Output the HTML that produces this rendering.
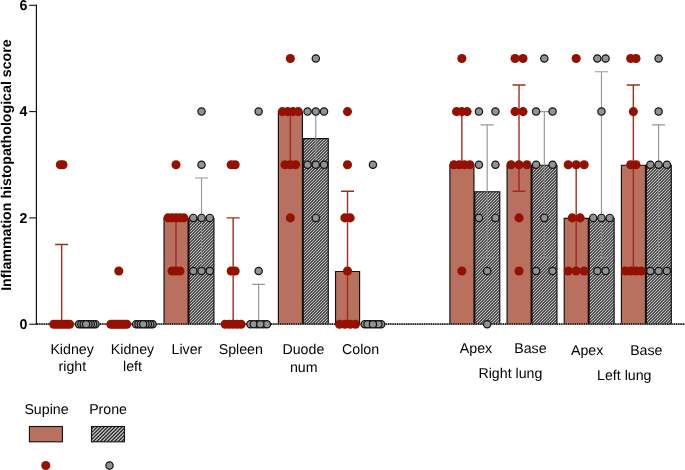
<!DOCTYPE html>
<html lang="en">
<head>
<meta charset="utf-8">
<title>Inflammation histopathological score</title>
<style>
html,body{margin:0;padding:0;background:#fff;}
body{width:685px;height:470px;overflow:hidden;}
svg{display:block;}
svg text{font-family:"Liberation Sans",Arial,Helvetica,sans-serif;font-size:14.2px;fill:#000;text-rendering:geometricPrecision;}
</style>
</head>
<body>
<svg width="685" height="470" viewBox="0 0 685 470">
<rect width="685" height="470" fill="#fff"/>
<rect x="164.04" y="218.35" width="24.05" height="105.85" fill="#BA705F"/>
<rect x="278.38" y="112.05" width="24.05" height="212.15" fill="#BA705F"/>
<rect x="335.55" y="271.50" width="24.05" height="52.70" fill="#BA705F"/>
<rect x="449.89" y="165.20" width="24.05" height="159.00" fill="#BA705F"/>
<rect x="507.06" y="165.20" width="24.05" height="159.00" fill="#BA705F"/>
<rect x="564.23" y="218.35" width="24.05" height="105.85" fill="#BA705F"/>
<rect x="621.40" y="165.20" width="24.05" height="159.00" fill="#BA705F"/>
<clipPath id="proneclip"><rect x="188.99" y="218.35" width="24.95" height="105.85"/><rect x="303.33" y="138.62" width="24.95" height="185.58"/><rect x="474.84" y="191.77" width="24.95" height="132.43"/><rect x="532.01" y="165.20" width="24.95" height="159.00"/><rect x="589.18" y="218.35" width="24.95" height="105.85"/><rect x="646.35" y="165.20" width="24.95" height="159.00"/></clipPath>
<g clip-path="url(#proneclip)"><rect x="170" y="100" width="515" height="226" fill="#cacaca"/><path d="M170.5 100L-55.5 326M173.5 100L-52.5 326M176.5 100L-49.5 326M179.5 100L-46.5 326M182.5 100L-43.5 326M185.5 100L-40.5 326M188.5 100L-37.5 326M191.5 100L-34.5 326M194.5 100L-31.5 326M197.5 100L-28.5 326M200.5 100L-25.5 326M203.5 100L-22.5 326M206.5 100L-19.5 326M209.5 100L-16.5 326M212.5 100L-13.5 326M215.5 100L-10.5 326M218.5 100L-7.5 326M221.5 100L-4.5 326M224.5 100L-1.5 326M227.5 100L1.5 326M230.5 100L4.5 326M233.5 100L7.5 326M236.5 100L10.5 326M239.5 100L13.5 326M242.5 100L16.5 326M245.5 100L19.5 326M248.5 100L22.5 326M251.5 100L25.5 326M254.5 100L28.5 326M257.5 100L31.5 326M260.5 100L34.5 326M263.5 100L37.5 326M266.5 100L40.5 326M269.5 100L43.5 326M272.5 100L46.5 326M275.5 100L49.5 326M278.5 100L52.5 326M281.5 100L55.5 326M284.5 100L58.5 326M287.5 100L61.5 326M290.5 100L64.5 326M293.5 100L67.5 326M296.5 100L70.5 326M299.5 100L73.5 326M302.5 100L76.5 326M305.5 100L79.5 326M308.5 100L82.5 326M311.5 100L85.5 326M314.5 100L88.5 326M317.5 100L91.5 326M320.5 100L94.5 326M323.5 100L97.5 326M326.5 100L100.5 326M329.5 100L103.5 326M332.5 100L106.5 326M335.5 100L109.5 326M338.5 100L112.5 326M341.5 100L115.5 326M344.5 100L118.5 326M347.5 100L121.5 326M350.5 100L124.5 326M353.5 100L127.5 326M356.5 100L130.5 326M359.5 100L133.5 326M362.5 100L136.5 326M365.5 100L139.5 326M368.5 100L142.5 326M371.5 100L145.5 326M374.5 100L148.5 326M377.5 100L151.5 326M380.5 100L154.5 326M383.5 100L157.5 326M386.5 100L160.5 326M389.5 100L163.5 326M392.5 100L166.5 326M395.5 100L169.5 326M398.5 100L172.5 326M401.5 100L175.5 326M404.5 100L178.5 326M407.5 100L181.5 326M410.5 100L184.5 326M413.5 100L187.5 326M416.5 100L190.5 326M419.5 100L193.5 326M422.5 100L196.5 326M425.5 100L199.5 326M428.5 100L202.5 326M431.5 100L205.5 326M434.5 100L208.5 326M437.5 100L211.5 326M440.5 100L214.5 326M443.5 100L217.5 326M446.5 100L220.5 326M449.5 100L223.5 326M452.5 100L226.5 326M455.5 100L229.5 326M458.5 100L232.5 326M461.5 100L235.5 326M464.5 100L238.5 326M467.5 100L241.5 326M470.5 100L244.5 326M473.5 100L247.5 326M476.5 100L250.5 326M479.5 100L253.5 326M482.5 100L256.5 326M485.5 100L259.5 326M488.5 100L262.5 326M491.5 100L265.5 326M494.5 100L268.5 326M497.5 100L271.5 326M500.5 100L274.5 326M503.5 100L277.5 326M506.5 100L280.5 326M509.5 100L283.5 326M512.5 100L286.5 326M515.5 100L289.5 326M518.5 100L292.5 326M521.5 100L295.5 326M524.5 100L298.5 326M527.5 100L301.5 326M530.5 100L304.5 326M533.5 100L307.5 326M536.5 100L310.5 326M539.5 100L313.5 326M542.5 100L316.5 326M545.5 100L319.5 326M548.5 100L322.5 326M551.5 100L325.5 326M554.5 100L328.5 326M557.5 100L331.5 326M560.5 100L334.5 326M563.5 100L337.5 326M566.5 100L340.5 326M569.5 100L343.5 326M572.5 100L346.5 326M575.5 100L349.5 326M578.5 100L352.5 326M581.5 100L355.5 326M584.5 100L358.5 326M587.5 100L361.5 326M590.5 100L364.5 326M593.5 100L367.5 326M596.5 100L370.5 326M599.5 100L373.5 326M602.5 100L376.5 326M605.5 100L379.5 326M608.5 100L382.5 326M611.5 100L385.5 326M614.5 100L388.5 326M617.5 100L391.5 326M620.5 100L394.5 326M623.5 100L397.5 326M626.5 100L400.5 326M629.5 100L403.5 326M632.5 100L406.5 326M635.5 100L409.5 326M638.5 100L412.5 326M641.5 100L415.5 326M644.5 100L418.5 326M647.5 100L421.5 326M650.5 100L424.5 326M653.5 100L427.5 326M656.5 100L430.5 326M659.5 100L433.5 326M662.5 100L436.5 326M665.5 100L439.5 326M668.5 100L442.5 326M671.5 100L445.5 326M674.5 100L448.5 326M677.5 100L451.5 326M680.5 100L454.5 326M683.5 100L457.5 326M686.5 100L460.5 326M689.5 100L463.5 326M692.5 100L466.5 326M695.5 100L469.5 326M698.5 100L472.5 326M701.5 100L475.5 326M704.5 100L478.5 326M707.5 100L481.5 326M710.5 100L484.5 326M713.5 100L487.5 326M716.5 100L490.5 326M719.5 100L493.5 326M722.5 100L496.5 326M725.5 100L499.5 326M728.5 100L502.5 326M731.5 100L505.5 326M734.5 100L508.5 326M737.5 100L511.5 326M740.5 100L514.5 326M743.5 100L517.5 326M746.5 100L520.5 326M749.5 100L523.5 326M752.5 100L526.5 326M755.5 100L529.5 326M758.5 100L532.5 326M761.5 100L535.5 326M764.5 100L538.5 326M767.5 100L541.5 326M770.5 100L544.5 326M773.5 100L547.5 326M776.5 100L550.5 326M779.5 100L553.5 326M782.5 100L556.5 326M785.5 100L559.5 326M788.5 100L562.5 326M791.5 100L565.5 326M794.5 100L568.5 326M797.5 100L571.5 326M800.5 100L574.5 326M803.5 100L577.5 326M806.5 100L580.5 326M809.5 100L583.5 326M812.5 100L586.5 326M815.5 100L589.5 326M818.5 100L592.5 326M821.5 100L595.5 326M824.5 100L598.5 326M827.5 100L601.5 326M830.5 100L604.5 326M833.5 100L607.5 326M836.5 100L610.5 326M839.5 100L613.5 326M842.5 100L616.5 326M845.5 100L619.5 326M848.5 100L622.5 326M851.5 100L625.5 326M854.5 100L628.5 326M857.5 100L631.5 326M860.5 100L634.5 326M863.5 100L637.5 326M866.5 100L640.5 326M869.5 100L643.5 326M872.5 100L646.5 326M875.5 100L649.5 326M878.5 100L652.5 326M881.5 100L655.5 326M884.5 100L658.5 326M887.5 100L661.5 326M890.5 100L664.5 326M893.5 100L667.5 326M896.5 100L670.5 326M899.5 100L673.5 326M902.5 100L676.5 326M905.5 100L679.5 326M908.5 100L682.5 326" stroke="#242424" stroke-width="1.05" fill="none"/></g>
<path d="M164.04 324.20V218.35H188.09V324.20M278.38 324.20V112.05H302.43V324.20M335.55 324.20V271.50H359.60V324.20M449.89 324.20V165.20H473.94V324.20M507.06 324.20V165.20H531.11V324.20M564.23 324.20V218.35H588.28V324.20M621.40 324.20V165.20H645.45V324.20M188.99 324.20V218.35H213.94V324.20M303.33 324.20V138.62H328.28V324.20M474.84 324.20V191.77H499.79V324.20M532.01 324.20V165.20H556.96V324.20M589.18 324.20V218.35H614.13V324.20M646.35 324.20V165.20H671.30V324.20" fill="none" stroke="#111" stroke-width="1.15"/>
<line x1="37" y1="324.09999999999997" x2="685" y2="324.09999999999997" stroke="#777" stroke-width="1.4"/>
<line x1="37" y1="324.09999999999997" x2="685" y2="324.09999999999997" stroke="#000" stroke-width="1.5" stroke-dasharray="1.15 1.1"/>
<path d="M61.65 324.20V244.47M55.15 244.47H68.15" fill="none" stroke="#A22C20" stroke-width="1.4"/>
<path d="M175.99 217.90V271.05M169.49 271.05H182.49" fill="none" stroke="#9E2A1E" stroke-width="1.4"/>
<path d="M233.16 324.20V217.90M226.66 217.90H239.66" fill="none" stroke="#A22C20" stroke-width="1.4"/>
<path d="M290.33 111.60V164.75M283.83 164.75H296.83" fill="none" stroke="#9E2A1E" stroke-width="1.4"/>
<path d="M347.50 271.05V191.32M341.00 191.32H354.00" fill="none" stroke="#A22C20" stroke-width="1.4"/>
<path d="M347.50 271.05V324.20M341.00 324.20H354.00" fill="none" stroke="#9E2A1E" stroke-width="1.4"/>
<path d="M461.84 164.75V111.60M455.34 111.60H468.34" fill="none" stroke="#A22C20" stroke-width="1.4"/>
<path d="M519.01 164.75V85.03M512.51 85.03H525.51" fill="none" stroke="#A22C20" stroke-width="1.4"/>
<path d="M519.01 164.75V191.32M512.51 191.32H525.51" fill="none" stroke="#9E2A1E" stroke-width="1.4"/>
<path d="M576.18 217.90V164.75M569.68 164.75H582.68" fill="none" stroke="#A22C20" stroke-width="1.4"/>
<path d="M576.18 217.90V271.05M569.68 271.05H582.68" fill="none" stroke="#9E2A1E" stroke-width="1.4"/>
<path d="M633.35 164.75V85.03M626.85 85.03H639.85" fill="none" stroke="#A22C20" stroke-width="1.4"/>
<path d="M633.35 164.75V271.05M626.85 271.05H639.85" fill="none" stroke="#9E2A1E" stroke-width="1.4"/>
<path d="M201.52 217.90V178.04M195.02 178.04H208.02" fill="none" stroke="#969696" stroke-width="1.15"/>
<path d="M201.52 217.90V271.05M195.02 271.05H208.02" fill="none" stroke="#8e8e8e" stroke-width="0.9"/>
<path d="M258.65 324.20V284.34M252.15 284.34H265.15" fill="none" stroke="#969696" stroke-width="1.15"/>
<path d="M315.79 138.17V111.60M309.29 111.60H322.29" fill="none" stroke="#969696" stroke-width="1.15"/>
<path d="M315.79 138.17V164.75M309.29 164.75H322.29" fill="none" stroke="#8e8e8e" stroke-width="0.9"/>
<path d="M487.19 191.32V124.89M480.69 124.89H493.69" fill="none" stroke="#969696" stroke-width="1.15"/>
<path d="M487.19 191.32V257.76M480.69 257.76H493.69" fill="none" stroke="#8e8e8e" stroke-width="0.9"/>
<path d="M544.33 164.75V111.60M537.83 111.60H550.83" fill="none" stroke="#969696" stroke-width="1.15"/>
<path d="M544.33 164.75V257.76M537.83 257.76H550.83" fill="none" stroke="#8e8e8e" stroke-width="0.9"/>
<path d="M601.47 217.90V71.74M594.97 71.74H607.97" fill="none" stroke="#969696" stroke-width="1.15"/>
<path d="M601.47 217.90V257.76M594.97 257.76H607.97" fill="none" stroke="#8e8e8e" stroke-width="0.9"/>
<path d="M658.60 164.75V124.89M652.10 124.89H665.10" fill="none" stroke="#969696" stroke-width="1.15"/>
<path d="M658.60 164.75V271.05M652.10 271.05H665.10" fill="none" stroke="#8e8e8e" stroke-width="0.9"/>
<circle cx="62.98" cy="164.75" r="4.55" fill="#941100"/>
<circle cx="60.32" cy="164.75" r="4.55" fill="#941100"/>
<circle cx="69.60" cy="324.20" r="4.55" fill="#941100"/>
<circle cx="53.70" cy="324.20" r="4.55" fill="#941100"/>
<circle cx="66.95" cy="324.20" r="4.55" fill="#941100"/>
<circle cx="56.35" cy="324.20" r="4.55" fill="#941100"/>
<circle cx="64.30" cy="324.20" r="4.55" fill="#941100"/>
<circle cx="59.00" cy="324.20" r="4.55" fill="#941100"/>
<circle cx="61.65" cy="324.20" r="4.55" fill="#941100"/>
<circle cx="118.82" cy="271.05" r="4.55" fill="#941100"/>
<circle cx="126.77" cy="324.20" r="4.55" fill="#941100"/>
<circle cx="110.87" cy="324.20" r="4.55" fill="#941100"/>
<circle cx="124.50" cy="324.20" r="4.55" fill="#941100"/>
<circle cx="113.14" cy="324.20" r="4.55" fill="#941100"/>
<circle cx="122.23" cy="324.20" r="4.55" fill="#941100"/>
<circle cx="115.41" cy="324.20" r="4.55" fill="#941100"/>
<circle cx="119.96" cy="324.20" r="4.55" fill="#941100"/>
<circle cx="117.68" cy="324.20" r="4.55" fill="#941100"/>
<circle cx="175.99" cy="164.75" r="4.55" fill="#941100"/>
<circle cx="183.94" cy="217.90" r="4.55" fill="#941100"/>
<circle cx="168.04" cy="217.90" r="4.55" fill="#941100"/>
<circle cx="179.97" cy="217.90" r="4.55" fill="#941100"/>
<circle cx="172.02" cy="217.90" r="4.55" fill="#941100"/>
<circle cx="175.99" cy="217.90" r="4.55" fill="#941100"/>
<circle cx="179.97" cy="271.05" r="4.55" fill="#941100"/>
<circle cx="172.02" cy="271.05" r="4.55" fill="#941100"/>
<circle cx="175.99" cy="271.05" r="4.55" fill="#941100"/>
<circle cx="235.15" cy="164.75" r="4.55" fill="#941100"/>
<circle cx="231.17" cy="164.75" r="4.55" fill="#941100"/>
<circle cx="235.15" cy="271.05" r="4.55" fill="#941100"/>
<circle cx="231.17" cy="271.05" r="4.55" fill="#941100"/>
<circle cx="241.11" cy="324.20" r="4.55" fill="#941100"/>
<circle cx="225.21" cy="324.20" r="4.55" fill="#941100"/>
<circle cx="237.13" cy="324.20" r="4.55" fill="#941100"/>
<circle cx="229.19" cy="324.20" r="4.55" fill="#941100"/>
<circle cx="233.16" cy="324.20" r="4.55" fill="#941100"/>
<circle cx="290.33" cy="58.45" r="4.55" fill="#941100"/>
<circle cx="298.28" cy="111.60" r="4.55" fill="#941100"/>
<circle cx="282.38" cy="111.60" r="4.55" fill="#941100"/>
<circle cx="292.98" cy="111.60" r="4.55" fill="#941100"/>
<circle cx="287.68" cy="111.60" r="4.55" fill="#941100"/>
<circle cx="295.63" cy="164.75" r="4.55" fill="#941100"/>
<circle cx="285.03" cy="164.75" r="4.55" fill="#941100"/>
<circle cx="290.33" cy="164.75" r="4.55" fill="#941100"/>
<circle cx="290.33" cy="217.90" r="4.55" fill="#941100"/>
<circle cx="347.50" cy="111.60" r="4.55" fill="#941100"/>
<circle cx="347.50" cy="164.75" r="4.55" fill="#941100"/>
<circle cx="350.15" cy="217.90" r="4.55" fill="#941100"/>
<circle cx="344.85" cy="217.90" r="4.55" fill="#941100"/>
<circle cx="347.50" cy="271.05" r="4.55" fill="#941100"/>
<circle cx="355.45" cy="324.20" r="4.55" fill="#941100"/>
<circle cx="339.55" cy="324.20" r="4.55" fill="#941100"/>
<circle cx="350.15" cy="324.20" r="4.55" fill="#941100"/>
<circle cx="344.85" cy="324.20" r="4.55" fill="#941100"/>
<circle cx="461.84" cy="58.45" r="4.55" fill="#941100"/>
<circle cx="467.14" cy="111.60" r="4.55" fill="#941100"/>
<circle cx="456.54" cy="111.60" r="4.55" fill="#941100"/>
<circle cx="461.84" cy="111.60" r="4.55" fill="#941100"/>
<circle cx="469.79" cy="164.75" r="4.55" fill="#941100"/>
<circle cx="453.89" cy="164.75" r="4.55" fill="#941100"/>
<circle cx="464.49" cy="164.75" r="4.55" fill="#941100"/>
<circle cx="459.19" cy="164.75" r="4.55" fill="#941100"/>
<circle cx="461.84" cy="271.05" r="4.55" fill="#941100"/>
<circle cx="522.99" cy="58.45" r="4.55" fill="#941100"/>
<circle cx="515.03" cy="58.45" r="4.55" fill="#941100"/>
<circle cx="522.99" cy="111.60" r="4.55" fill="#941100"/>
<circle cx="515.03" cy="111.60" r="4.55" fill="#941100"/>
<circle cx="526.96" cy="164.75" r="4.55" fill="#941100"/>
<circle cx="511.06" cy="164.75" r="4.55" fill="#941100"/>
<circle cx="519.01" cy="164.75" r="4.55" fill="#941100"/>
<circle cx="519.01" cy="217.90" r="4.55" fill="#941100"/>
<circle cx="519.01" cy="271.05" r="4.55" fill="#941100"/>
<circle cx="576.18" cy="58.45" r="4.55" fill="#941100"/>
<circle cx="584.13" cy="164.75" r="4.55" fill="#941100"/>
<circle cx="568.23" cy="164.75" r="4.55" fill="#941100"/>
<circle cx="576.18" cy="164.75" r="4.55" fill="#941100"/>
<circle cx="580.15" cy="217.90" r="4.55" fill="#941100"/>
<circle cx="572.20" cy="217.90" r="4.55" fill="#941100"/>
<circle cx="584.13" cy="271.05" r="4.55" fill="#941100"/>
<circle cx="568.23" cy="271.05" r="4.55" fill="#941100"/>
<circle cx="576.18" cy="271.05" r="4.55" fill="#941100"/>
<circle cx="636.00" cy="58.45" r="4.55" fill="#941100"/>
<circle cx="630.70" cy="58.45" r="4.55" fill="#941100"/>
<circle cx="633.35" cy="111.60" r="4.55" fill="#941100"/>
<circle cx="636.00" cy="164.75" r="4.55" fill="#941100"/>
<circle cx="630.70" cy="164.75" r="4.55" fill="#941100"/>
<circle cx="641.30" cy="271.05" r="4.55" fill="#941100"/>
<circle cx="625.40" cy="271.05" r="4.55" fill="#941100"/>
<circle cx="636.00" cy="271.05" r="4.55" fill="#941100"/>
<circle cx="630.70" cy="271.05" r="4.55" fill="#941100"/>
<circle cx="95.50" cy="324.20" r="3.65" fill="#929292" stroke="#111" stroke-width="1.2"/>
<circle cx="79.00" cy="324.20" r="3.65" fill="#929292" stroke="#111" stroke-width="1.2"/>
<circle cx="93.14" cy="324.20" r="3.65" fill="#929292" stroke="#111" stroke-width="1.2"/>
<circle cx="81.36" cy="324.20" r="3.65" fill="#929292" stroke="#111" stroke-width="1.2"/>
<circle cx="90.79" cy="324.20" r="3.65" fill="#929292" stroke="#111" stroke-width="1.2"/>
<circle cx="83.71" cy="324.20" r="3.65" fill="#929292" stroke="#111" stroke-width="1.2"/>
<circle cx="88.43" cy="324.20" r="3.65" fill="#929292" stroke="#111" stroke-width="1.2"/>
<circle cx="86.07" cy="324.20" r="3.65" fill="#929292" stroke="#111" stroke-width="1.2"/>
<circle cx="152.63" cy="324.20" r="3.65" fill="#929292" stroke="#111" stroke-width="1.2"/>
<circle cx="136.13" cy="324.20" r="3.65" fill="#929292" stroke="#111" stroke-width="1.2"/>
<circle cx="150.28" cy="324.20" r="3.65" fill="#929292" stroke="#111" stroke-width="1.2"/>
<circle cx="138.49" cy="324.20" r="3.65" fill="#929292" stroke="#111" stroke-width="1.2"/>
<circle cx="147.92" cy="324.20" r="3.65" fill="#929292" stroke="#111" stroke-width="1.2"/>
<circle cx="140.85" cy="324.20" r="3.65" fill="#929292" stroke="#111" stroke-width="1.2"/>
<circle cx="145.56" cy="324.20" r="3.65" fill="#929292" stroke="#111" stroke-width="1.2"/>
<circle cx="143.21" cy="324.20" r="3.65" fill="#929292" stroke="#111" stroke-width="1.2"/>
<circle cx="201.52" cy="111.60" r="3.65" fill="#929292" stroke="#111" stroke-width="1.2"/>
<circle cx="201.52" cy="164.75" r="3.65" fill="#929292" stroke="#111" stroke-width="1.2"/>
<circle cx="209.77" cy="217.90" r="3.65" fill="#929292" stroke="#111" stroke-width="1.2"/>
<circle cx="193.27" cy="217.90" r="3.65" fill="#929292" stroke="#111" stroke-width="1.2"/>
<circle cx="201.52" cy="217.90" r="3.65" fill="#929292" stroke="#111" stroke-width="1.2"/>
<circle cx="209.77" cy="271.05" r="3.65" fill="#929292" stroke="#111" stroke-width="1.2"/>
<circle cx="193.27" cy="271.05" r="3.65" fill="#929292" stroke="#111" stroke-width="1.2"/>
<circle cx="201.52" cy="271.05" r="3.65" fill="#929292" stroke="#111" stroke-width="1.2"/>
<circle cx="258.65" cy="111.60" r="3.65" fill="#929292" stroke="#111" stroke-width="1.2"/>
<circle cx="258.65" cy="271.05" r="3.65" fill="#929292" stroke="#111" stroke-width="1.2"/>
<circle cx="250.40" cy="324.20" r="3.65" fill="#929292" stroke="#111" stroke-width="1.2"/>
<circle cx="257.00" cy="324.20" r="3.65" fill="#929292" stroke="#111" stroke-width="1.2"/>
<circle cx="263.60" cy="324.20" r="3.65" fill="#929292" stroke="#111" stroke-width="1.2"/>
<circle cx="266.90" cy="324.20" r="3.65" fill="#929292" stroke="#111" stroke-width="1.2"/>
<circle cx="253.70" cy="324.20" r="3.65" fill="#929292" stroke="#111" stroke-width="1.2"/>
<circle cx="260.30" cy="324.20" r="3.65" fill="#929292" stroke="#111" stroke-width="1.2"/>
<circle cx="315.79" cy="58.45" r="3.65" fill="#929292" stroke="#111" stroke-width="1.2"/>
<circle cx="324.04" cy="111.60" r="3.65" fill="#929292" stroke="#111" stroke-width="1.2"/>
<circle cx="307.54" cy="111.60" r="3.65" fill="#929292" stroke="#111" stroke-width="1.2"/>
<circle cx="315.79" cy="111.60" r="3.65" fill="#929292" stroke="#111" stroke-width="1.2"/>
<circle cx="324.04" cy="164.75" r="3.65" fill="#929292" stroke="#111" stroke-width="1.2"/>
<circle cx="307.54" cy="164.75" r="3.65" fill="#929292" stroke="#111" stroke-width="1.2"/>
<circle cx="315.79" cy="164.75" r="3.65" fill="#929292" stroke="#111" stroke-width="1.2"/>
<circle cx="315.79" cy="217.90" r="3.65" fill="#929292" stroke="#111" stroke-width="1.2"/>
<circle cx="372.93" cy="164.75" r="3.65" fill="#929292" stroke="#111" stroke-width="1.2"/>
<circle cx="364.68" cy="324.20" r="3.65" fill="#929292" stroke="#111" stroke-width="1.2"/>
<circle cx="370.18" cy="324.20" r="3.65" fill="#929292" stroke="#111" stroke-width="1.2"/>
<circle cx="375.68" cy="324.20" r="3.65" fill="#929292" stroke="#111" stroke-width="1.2"/>
<circle cx="381.18" cy="324.20" r="3.65" fill="#929292" stroke="#111" stroke-width="1.2"/>
<circle cx="378.43" cy="324.20" r="3.65" fill="#929292" stroke="#111" stroke-width="1.2"/>
<circle cx="367.43" cy="324.20" r="3.65" fill="#929292" stroke="#111" stroke-width="1.2"/>
<circle cx="372.93" cy="324.20" r="3.65" fill="#929292" stroke="#111" stroke-width="1.2"/>
<circle cx="495.44" cy="111.60" r="3.65" fill="#929292" stroke="#111" stroke-width="1.2"/>
<circle cx="478.94" cy="111.60" r="3.65" fill="#929292" stroke="#111" stroke-width="1.2"/>
<circle cx="495.44" cy="164.75" r="3.65" fill="#929292" stroke="#111" stroke-width="1.2"/>
<circle cx="478.94" cy="164.75" r="3.65" fill="#929292" stroke="#111" stroke-width="1.2"/>
<circle cx="495.44" cy="217.90" r="3.65" fill="#929292" stroke="#111" stroke-width="1.2"/>
<circle cx="478.94" cy="217.90" r="3.65" fill="#929292" stroke="#111" stroke-width="1.2"/>
<circle cx="487.19" cy="271.05" r="3.65" fill="#929292" stroke="#111" stroke-width="1.2"/>
<circle cx="487.19" cy="324.20" r="3.65" fill="#929292" stroke="#111" stroke-width="1.2"/>
<circle cx="544.33" cy="58.45" r="3.65" fill="#929292" stroke="#111" stroke-width="1.2"/>
<circle cx="552.58" cy="111.60" r="3.65" fill="#929292" stroke="#111" stroke-width="1.2"/>
<circle cx="536.08" cy="111.60" r="3.65" fill="#929292" stroke="#111" stroke-width="1.2"/>
<circle cx="552.58" cy="164.75" r="3.65" fill="#929292" stroke="#111" stroke-width="1.2"/>
<circle cx="536.08" cy="164.75" r="3.65" fill="#929292" stroke="#111" stroke-width="1.2"/>
<circle cx="544.33" cy="217.90" r="3.65" fill="#929292" stroke="#111" stroke-width="1.2"/>
<circle cx="552.58" cy="271.05" r="3.65" fill="#929292" stroke="#111" stroke-width="1.2"/>
<circle cx="536.08" cy="271.05" r="3.65" fill="#929292" stroke="#111" stroke-width="1.2"/>
<circle cx="605.59" cy="58.45" r="3.65" fill="#929292" stroke="#111" stroke-width="1.2"/>
<circle cx="597.34" cy="58.45" r="3.65" fill="#929292" stroke="#111" stroke-width="1.2"/>
<circle cx="601.47" cy="111.60" r="3.65" fill="#929292" stroke="#111" stroke-width="1.2"/>
<circle cx="609.72" cy="217.90" r="3.65" fill="#929292" stroke="#111" stroke-width="1.2"/>
<circle cx="593.22" cy="217.90" r="3.65" fill="#929292" stroke="#111" stroke-width="1.2"/>
<circle cx="601.47" cy="217.90" r="3.65" fill="#929292" stroke="#111" stroke-width="1.2"/>
<circle cx="605.59" cy="271.05" r="3.65" fill="#929292" stroke="#111" stroke-width="1.2"/>
<circle cx="597.34" cy="271.05" r="3.65" fill="#929292" stroke="#111" stroke-width="1.2"/>
<circle cx="658.60" cy="58.45" r="3.65" fill="#929292" stroke="#111" stroke-width="1.2"/>
<circle cx="658.60" cy="111.60" r="3.65" fill="#929292" stroke="#111" stroke-width="1.2"/>
<circle cx="666.85" cy="164.75" r="3.65" fill="#929292" stroke="#111" stroke-width="1.2"/>
<circle cx="650.35" cy="164.75" r="3.65" fill="#929292" stroke="#111" stroke-width="1.2"/>
<circle cx="658.60" cy="164.75" r="3.65" fill="#929292" stroke="#111" stroke-width="1.2"/>
<circle cx="666.85" cy="271.05" r="3.65" fill="#929292" stroke="#111" stroke-width="1.2"/>
<circle cx="650.35" cy="271.05" r="3.65" fill="#929292" stroke="#111" stroke-width="1.2"/>
<circle cx="658.60" cy="271.05" r="3.65" fill="#929292" stroke="#111" stroke-width="1.2"/>
<g opacity="0.999">
<path d="M36.4 4.70V324.80" stroke="#111" stroke-width="1.2" fill="none"/>
<line x1="29.2" y1="324.20" x2="37" y2="324.20" stroke="#111" stroke-width="1.1"/>
<text x="27.4" y="328.95" text-anchor="end" font-weight="bold">0</text>
<line x1="29.2" y1="217.90" x2="37" y2="217.90" stroke="#111" stroke-width="1.1"/>
<text x="27.4" y="222.65" text-anchor="end" font-weight="bold">2</text>
<line x1="29.2" y1="111.60" x2="37" y2="111.60" stroke="#111" stroke-width="1.1"/>
<text x="27.4" y="116.35" text-anchor="end" font-weight="bold">4</text>
<line x1="29.2" y1="5.30" x2="37" y2="5.30" stroke="#111" stroke-width="1.1"/>
<text x="27.4" y="10.05" text-anchor="end" font-weight="bold">6</text>
<text transform="translate(10.75 165.1) rotate(-90)" text-anchor="middle" font-weight="bold" >Inflammation histopathological score</text>
<text x="72.1" y="353.6" text-anchor="middle">Kidney</text>
<text x="72.4" y="370.9" text-anchor="middle">right</text>
<text x="132.5" y="353.6" text-anchor="middle">Kidney</text>
<text x="132.5" y="370.9" text-anchor="middle">left</text>
<text x="186.9" y="353.55" text-anchor="middle">Liver</text>
<text x="240.8" y="353.55" text-anchor="middle">Spleen</text>
<text x="303.4" y="353.55" text-anchor="middle">Duode</text>
<text x="303.7" y="371.6" text-anchor="middle">num</text>
<text x="360.6" y="353.55" text-anchor="middle">Colon</text>
<text x="476.0" y="353.0" text-anchor="middle">Apex</text>
<text x="530.4" y="353.0" text-anchor="middle">Base</text>
<text x="587.2" y="355.0" text-anchor="middle">Apex</text>
<text x="646.3" y="355.0" text-anchor="middle">Base</text>
<text x="510.4" y="378.3" text-anchor="middle">Right lung</text>
<text x="624.3" y="380.0" text-anchor="middle">Left lung</text>
<text x="46.5" y="413.8" text-anchor="middle">Supine</text>
<text x="108.1" y="413.8" text-anchor="middle">Prone</text>
<rect x="29.4" y="426.5" width="33" height="15.3" fill="#BA705F" stroke="#111" stroke-width="1.1"/>
<clipPath id="legclip"><rect x="91.5" y="426.5" width="33" height="15.3"/></clipPath>
<g clip-path="url(#legclip)"><rect x="91" y="426" width="34" height="17" fill="#cfcfcf"/><path d="M92.00 425L74.00 443M95.55 425L77.55 443M99.10 425L81.10 443M102.65 425L84.65 443M106.20 425L88.20 443M109.75 425L91.75 443M113.30 425L95.30 443M116.85 425L98.85 443M120.40 425L102.40 443M123.95 425L105.95 443M127.50 425L109.50 443M131.05 425L113.05 443M134.60 425L116.60 443M138.15 425L120.15 443M141.70 425L123.70 443" stroke="#222" stroke-width="1.3" fill="none"/></g>
<rect x="91.5" y="426.5" width="33" height="15.3" fill="none" stroke="#111" stroke-width="1.1"/>
<circle cx="45.8" cy="465.5" r="4.55" fill="#941100"/>
<circle cx="109.5" cy="465.5" r="3.65" fill="#929292" stroke="#111" stroke-width="1.2"/>
</g>
</svg>
</body>
</html>
